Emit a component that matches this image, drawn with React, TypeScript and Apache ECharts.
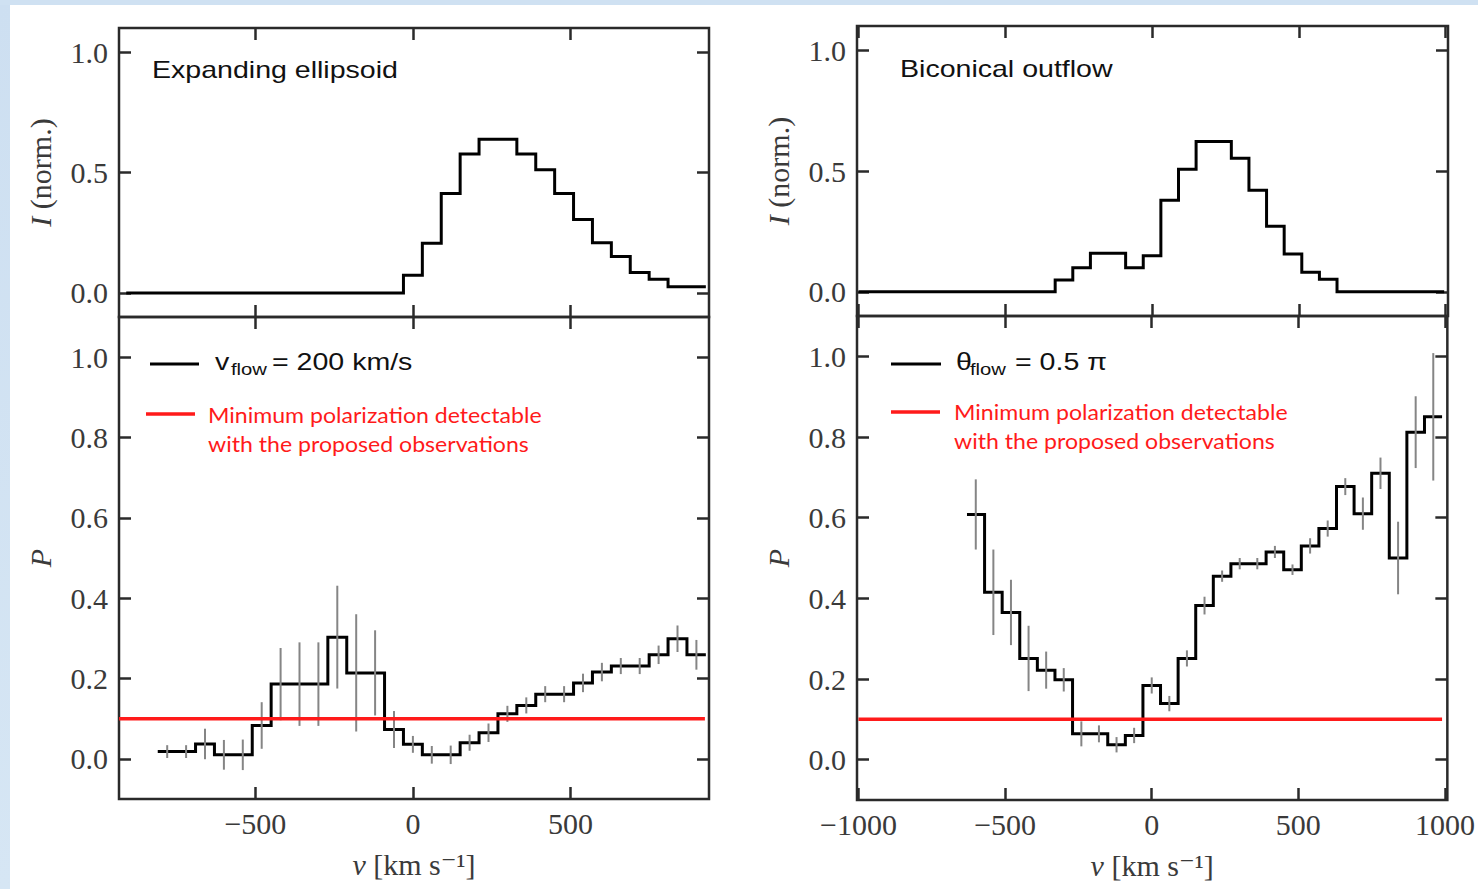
import React, { useEffect, useRef } from 'react';
import * as echarts from 'echarts';

const W = 1478;
const H = 889;

// ---------------- data ----------------
const BIN_WIDTH = 60; // km/s

// Expanding ellipsoid: normalised intensity (non-zero bins)
const ellIntensityCenters = [0, 60, 120, 180, 240, 300, 360, 420, 480, 540, 600, 660, 720, 780, 840, 900];
const ellIntensity = [0.073, 0.206, 0.413, 0.577, 0.638, 0.638, 0.577, 0.511, 0.413, 0.305, 0.208, 0.151, 0.085, 0.057, 0.026, 0.026];
const ellIntensityStart = -910;

// Expanding ellipsoid: polarization P and its error
const ellPolCenters = [-780, -720, -660, -600, -540, -480, -420, -360, -300, -240, -180, -120, -60, 0, 60, 120, 180, 240, 300, 360, 420, 480, 540, 600, 660, 720, 780, 840, 900];
const ellPol = [0.018, 0.018, 0.037, 0.010, 0.010, 0.083, 0.186, 0.186, 0.186, 0.303, 0.214, 0.214, 0.073, 0.036, 0.010, 0.010, 0.040, 0.065, 0.112, 0.133, 0.161, 0.161, 0.189, 0.216, 0.231, 0.231, 0.259, 0.299, 0.259];
const ellPolErr = [0.016, 0.016, 0.038, 0.037, 0.038, 0.058, 0.090, 0.104, 0.104, 0.128, 0.146, 0.106, 0.046, 0.021, 0.022, 0.023, 0.020, 0.023, 0.020, 0.020, 0.020, 0.020, 0.023, 0.023, 0.020, 0.020, 0.023, 0.033, 0.037];

// Biconical outflow: normalised intensity (non-zero bins)
const bicIntensityCenters = [-300, -240, -180, -120, -60, 0, 60, 120, 180, 240, 300, 360, 420, 480, 540, 600];
const bicIntensity = [0.049, 0.100, 0.160, 0.160, 0.100, 0.149, 0.379, 0.507, 0.622, 0.622, 0.553, 0.420, 0.271, 0.157, 0.081, 0.052];
const bicIntensityStart = -1000;
const bicIntensityEnd = 995;

// Biconical outflow: polarization P and its error
const bicPolCenters = [-600, -540, -480, -420, -360, -300, -240, -180, -120, -60, 0, 60, 120, 180, 240, 300, 360, 420, 480, 540, 600, 660, 720, 780, 840, 900, 960];
const bicPol = [0.608, 0.415, 0.365, 0.251, 0.222, 0.198, 0.064, 0.064, 0.037, 0.060, 0.184, 0.139, 0.251, 0.382, 0.455, 0.486, 0.486, 0.515, 0.471, 0.530, 0.573, 0.677, 0.610, 0.710, 0.500, 0.812, 0.850];
const bicPolErr = [0.087, 0.106, 0.081, 0.081, 0.046, 0.029, 0.031, 0.021, 0.019, 0.019, 0.020, 0.019, 0.020, 0.022, 0.014, 0.014, 0.014, 0.015, 0.013, 0.019, 0.020, 0.021, 0.040, 0.039, 0.090, 0.089, 0.158];

// Minimum detectable polarization
const minDetectableP = 0.1;
const minLineLeft = [-933, 927];
const minLineRight = [-1000, 990];

// Axis ranges & ticks
const leftXRange = [-933, 940];
const rightXRange = [-1005, 1008];
const leftXTicks = [-500, 0, 500];
const rightXTicks = [-1000, -500, 0, 500, 1000];
const yRange = [-0.1, 1.1];
const intensityTicks = [0, 0.5, 1.0];
const polTicks = [0, 0.2, 0.4, 0.6, 0.8, 1.0];

// ---------------- helpers ----------------
function histSteps(centers: number[], values: number[], start?: number, end?: number) {
  const pts: number[][] = [];
  if (start !== undefined) pts.push([start, 0]);
  centers.forEach((c, i) => pts.push([c - BIN_WIDTH / 2, values[i]]));
  const lastEdge = centers[centers.length - 1] + BIN_WIDTH / 2;
  if (end !== undefined) {
    pts.push([lastEdge, 0]);
    pts.push([end, 0]);
  } else {
    pts.push([lastEdge, values[values.length - 1]]);
  }
  return pts;
}

function errData(centers: number[], values: number[], errs: number[]) {
  return centers.map((c, i) => [c, values[i] - errs[i], values[i] + errs[i]]);
}

const SERIF = "'Liberation Serif', 'DejaVu Serif', serif";
const SANS = "'Liberation Sans', Arial, sans-serif";
const CAL = "Lato, 'Open Sans', sans-serif";
const FRAME = '#2a2a2a';
const LABEL = '#3a3a3a';
const RED = '#ff1a1a';

const grids = [
  { left: 119, top: 28, width: 590, height: 289 },
  { left: 119, top: 317, width: 590, height: 482 },
  { left: 857, top: 26, width: 591, height: 290 },
  { left: 857, top: 316, width: 591, height: 484 },
];

const fmtX = (v: number) => (v < 0 ? '\u2212' + Math.abs(v) : String(v));

function makeXAxes(g: number, range: number[], ticks: number[], showLabels: boolean) {
  const tick = { show: true, inside: true, length: 12, customValues: ticks, lineStyle: { color: FRAME, width: 2.5 } };
  const base = { gridIndex: g, type: 'value', min: range[0], max: range[1], splitLine: { show: false }, axisLine: { show: false, onZero: false }, axisTick: tick };
  return [
    {
      ...base,
      position: 'bottom',
      axisLabel: { show: showLabels, customValues: ticks, formatter: fmtX, fontFamily: SERIF, fontSize: 30, color: LABEL, margin: 9 },
      name: showLabels ? '{i|v} [km s\u207B\u00B9]' : '',
      nameLocation: 'middle',
      nameGap: 50,
      nameTextStyle: { fontFamily: SERIF, fontSize: 30, color: LABEL, rich: { i: { fontFamily: SERIF, fontStyle: 'italic', fontSize: 30, color: LABEL } } },
    },
    { ...base, position: 'top', axisLabel: { show: false } },
  ];
}

function makeYAxes(g: number, ticks: number[], name: string) {
  const tick = { show: true, inside: true, length: 12, customValues: ticks, lineStyle: { color: FRAME, width: 2.5 } };
  const base = { gridIndex: g, type: 'value', min: yRange[0], max: yRange[1], splitLine: { show: false }, axisLine: { show: false, onZero: false }, axisTick: tick };
  return [
    {
      ...base,
      position: 'left',
      axisLabel: { show: true, customValues: ticks, formatter: (v: number) => v.toFixed(1), fontFamily: SERIF, fontSize: 30, color: LABEL, margin: 11 },
      name,
      nameLocation: 'middle',
      nameGap: 64,
      nameTextStyle: { fontFamily: SERIF, fontSize: 30, color: LABEL, rich: { i: { fontFamily: SERIF, fontStyle: 'italic', fontSize: 30, color: LABEL } } },
    },
    { ...base, position: 'right', axisLabel: { show: false } },
  ];
}

function stepSeries(idx: number, data: number[][]) {
  return { type: 'line', xAxisIndex: idx, yAxisIndex: idx, data, step: 'end', symbol: 'none', lineStyle: { color: '#000', width: 3, join: 'miter' }, z: 3, silent: true };
}

function errSeries(idx: number, data: number[][]) {
  return {
    type: 'custom',
    xAxisIndex: idx,
    yAxisIndex: idx,
    data,
    encode: { x: 0, y: [1, 2] },
    z: 4,
    silent: true,
    renderItem: (_p: any, api: any) => {
      const a = api.coord([api.value(0), api.value(1)]);
      const b = api.coord([api.value(0), api.value(2)]);
      return { type: 'line', shape: { x1: a[0], y1: a[1], x2: b[0], y2: b[1] }, style: { stroke: '#858585', lineWidth: 2 } };
    },
  };
}

function redSeries(idx: number, ext: number[]) {
  return { type: 'line', xAxisIndex: idx, yAxisIndex: idx, data: [[ext[0], minDetectableP], [ext[1], minDetectableP]], symbol: 'none', lineStyle: { color: RED, width: 3.5 }, z: 5, silent: true };
}

function txt(x: number, y: number, text: string, size: number, family: string, fill: string, scaleX = 1.19) {
  return { type: 'text', x, y, scaleX, z: 10, style: { text, font: `${size}px ${family}`, fill, verticalAlign: 'middle', align: 'left' } };
}
function seg(x1: number, x2: number, y: number, stroke: string, w: number) {
  return { type: 'line', z: 10, shape: { x1, y1: y, x2, y2: y }, style: { stroke, lineWidth: w } };
}

export default function App() {
  const ref = useRef<HTMLDivElement>(null);
  useEffect(() => {
    if (!ref.current) return;
    const chart = echarts.init(ref.current, undefined, { renderer: 'svg' });
    const option: any = {
      animation: false,
      backgroundColor: 'transparent',
      grid: grids.map((g) => ({ ...g, show: true, borderColor: FRAME, borderWidth: 2.5, backgroundColor: 'transparent', containLabel: false })),
      xAxis: [
        ...makeXAxes(0, leftXRange, leftXTicks, false),
        ...makeXAxes(1, leftXRange, leftXTicks, true),
        ...makeXAxes(2, rightXRange, rightXTicks, false),
        ...makeXAxes(3, rightXRange, rightXTicks, true),
      ],
      yAxis: [
        ...makeYAxes(0, intensityTicks, '{i|I} (norm.)'),
        ...makeYAxes(1, polTicks, '{i|P}'),
        ...makeYAxes(2, intensityTicks, '{i|I} (norm.)'),
        ...makeYAxes(3, polTicks, '{i|P}'),
      ],
      series: [
        stepSeries(0, histSteps(ellIntensityCenters, ellIntensity, ellIntensityStart)),
        stepSeries(2, histSteps(ellPolCenters, ellPol)),
        errSeries(2, errData(ellPolCenters, ellPol, ellPolErr)),
        redSeries(2, minLineLeft),
        stepSeries(4, histSteps(bicIntensityCenters, bicIntensity, bicIntensityStart, bicIntensityEnd)),
        stepSeries(6, histSteps(bicPolCenters, bicPol)),
        errSeries(6, errData(bicPolCenters, bicPol, bicPolErr)),
        redSeries(6, minLineRight),
      ],
      graphic: [
        txt(152, 70, 'Expanding ellipsoid', 24, SANS, '#111'),
        txt(900, 69, 'Biconical outflow', 24, SANS, '#111'),
        // left legend
        seg(150, 199, 364, '#000', 3),
        txt(215, 362, 'v', 24, SANS, '#111'),
        txt(231, 369, 'flow', 17, SANS, '#111'),
        txt(272, 362, '= 200 km/s', 24, SANS, '#111'),
        seg(146, 195, 414, RED, 3.5),
        txt(208, 415, 'Minimum polarization detectable', 22, CAL, RED, 1.05),
        txt(208, 444, 'with the proposed observations', 22, CAL, RED, 1.05),
        // right legend
        seg(891, 941, 364, '#000', 3),
        txt(956, 362, '\u03B8', 24, SANS, '#111'),
        txt(970, 369, 'flow', 17, SANS, '#111'),
        txt(1015, 362, '= 0.5 \u03C0', 24, SANS, '#111'),
        seg(891, 940, 412, RED, 3.5),
        txt(954, 412, 'Minimum polarization detectable', 22, CAL, RED, 1.05),
        txt(954, 441, 'with the proposed observations', 22, CAL, RED, 1.05),
      ],
    };
    chart.setOption(option);
    return () => chart.dispose();
  }, []);

  const bg =
    'linear-gradient(#cfe1f2,#cfe1f2) 0 0/100% 5px no-repeat, linear-gradient(#cddff1,#d6e6f4) 0 0/10px 100% no-repeat, #ffffff';
  return (
    <div style={{ position: 'fixed', left: 0, top: 0, width: W, height: H, background: bg }}>
      <div ref={ref} style={{ width: W, height: H }} />
    </div>
  );
}
